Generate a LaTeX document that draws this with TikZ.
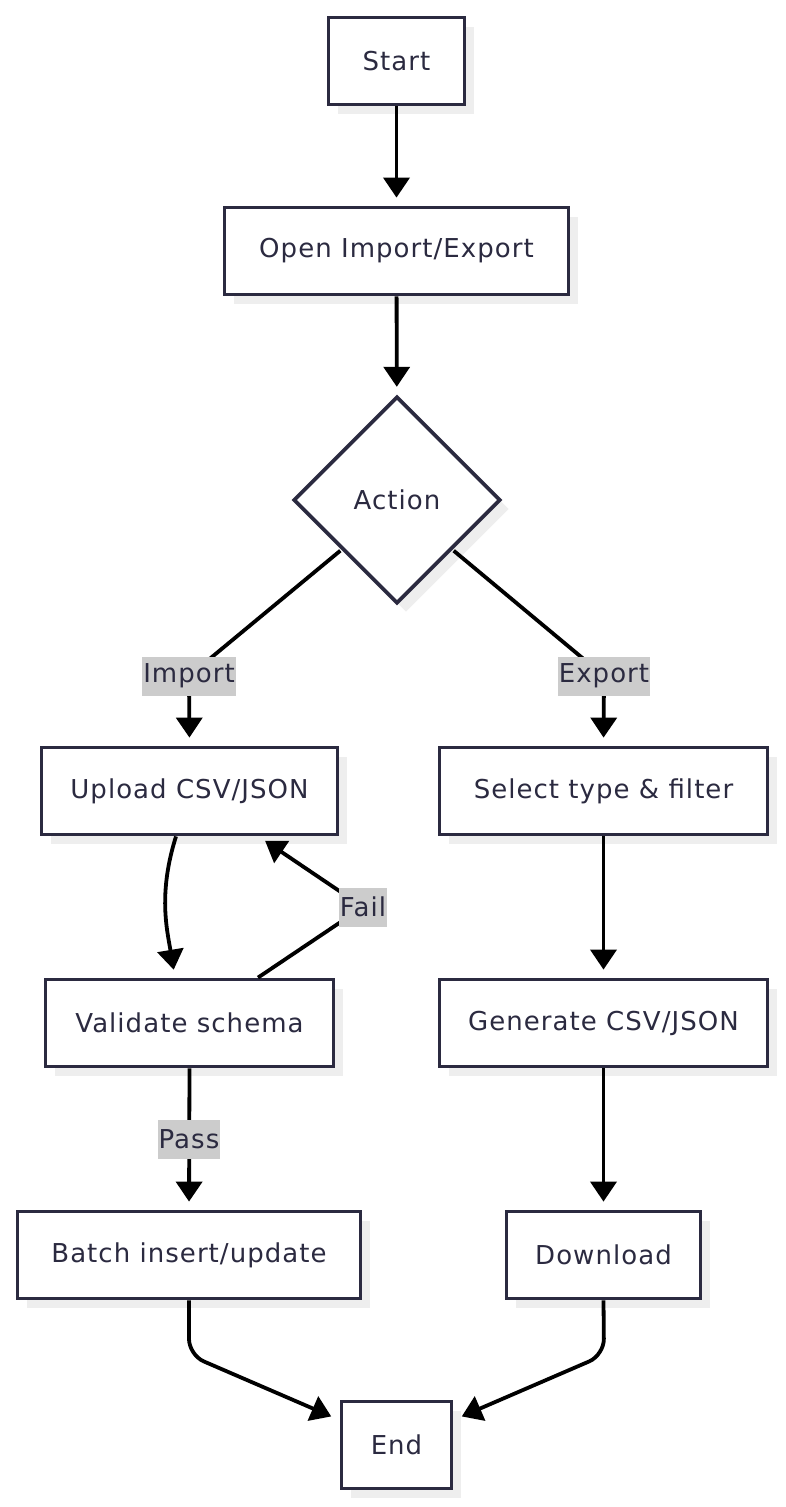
\documentclass[tikz,border=0pt]{standalone}
\usepackage{fontspec}
\setmainfont{DejaVu Sans}[LetterSpace=4]
\usetikzlibrary{shapes.geometric,arrows.meta,shadows}
\definecolor{ink}{HTML}{2B2A40}
\definecolor{shadowc}{HTML}{EEEEEE}
\definecolor{lblbg}{HTML}{CCCCCC}
\begin{document}
\begin{tikzpicture}[x=1pt,y=-1pt,
  sh/.style={drop shadow={shadow xshift=9pt,shadow yshift=-9pt,fill=shadowc,opacity=1}},
  box/.style={sh,rectangle,draw=ink,line width=3.8pt,fill=white,text=ink,
    font=\fontsize{26}{30}\selectfont,minimum height=87pt,inner sep=0pt},
  dec/.style={sh,diamond,aspect=1,draw=ink,line width=3.8pt,fill=white,text=ink,
    font=\fontsize{26}{30}\selectfont,minimum size=207pt,inner sep=0pt},
  lbl/.style={fill=lblbg,text=ink,font=\fontsize{26}{30}\selectfont,
    inner xsep=1pt,inner ysep=0pt,minimum height=39pt},
  arr/.style={draw=black,line width=3.8pt,-{Triangle[length=20pt,width=26pt]},shorten >=8pt}
]
\useasboundingbox (0,0) rectangle (786,1507);

\node[box,minimum width=136pt] (st) at (396.5,61) {Start};
\node[box,minimum width=344pt] (op) at (396.5,251) {Open Import/Export};
\node[dec] (act) at (397,500) {Action};
\node[box,minimum width=296pt] (up) at (189.5,791) {Upload CSV/JSON};
\node[box,minimum width=328pt] (sel) at (603.5,791) {Select type \& filter};
\node[box,minimum width=288pt] (val) at (189.5,1023) {Validate schema};
\node[box,minimum width=328pt] (gen) at (603.5,1023) {Generate CSV/JSON};
\node[box,minimum width=343pt] (bat) at (189,1255) {Batch insert/update};
\node[box,minimum width=194pt] (dl) at (603.5,1255) {Download};
\node[box,minimum width=110pt] (en) at (396.5,1445) {End};

\coordinate (kI) at (189,676);
\coordinate (kE) at (604,676);
\coordinate (kF) at (363,907);
\coordinate (kB) at (189,1355);
\coordinate (kD) at (604,1355);

\draw[arr] (st) -- (op);
\draw[arr] (op) -- (act);
\draw[arr] ([xshift=-4pt,yshift=2pt]act.south west) -- (kI) -- (up.north);
\draw[arr] ([xshift=4pt,yshift=2pt]act.south east) -- (kE) -- (sel.north);
\node[lbl] at (kI) {Import};
\node[lbl] at (kE) {Export};

\draw[arr] ([xshift=-13.5pt]up.south) .. controls +(-18,57) and +(-8,-48) .. ([xshift=-14.5pt]val.north);
\draw[arr] ([xshift=68.5pt]val.north) -- (kF) -- ([xshift=69pt]up.south);
\node[lbl] at (kF) {Fail};

\draw[arr] (val.south) -- (bat.north);
\node[lbl] at (189,1139) {Pass};

\draw[arr] (sel) -- (gen);
\draw[arr] (gen) -- (dl);

\draw[arr,rounded corners=16pt] (bat.south) -- (kB) -- ([xshift=-1pt,yshift=-20pt]en.north west);
\draw[arr,rounded corners=16pt] (dl.south) -- (kD) -- ([xshift=1pt,yshift=-20pt]en.north east);
\end{tikzpicture}
\end{document}
